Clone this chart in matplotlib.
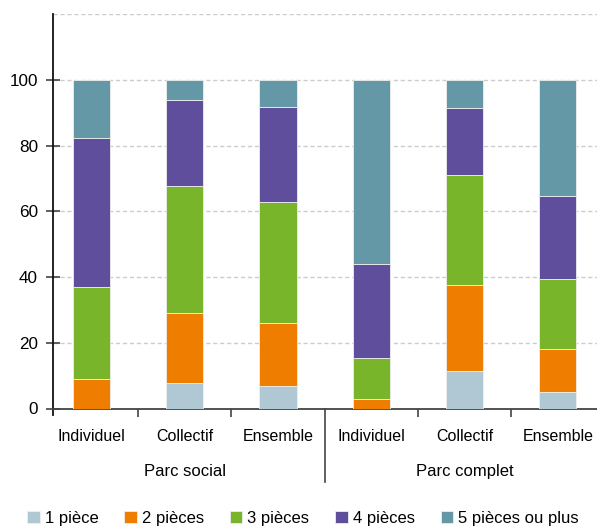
import matplotlib.pyplot as plt
import numpy as np

plt.rcParams['font.family'] = ['Liberation Sans', 'DejaVu Sans']

# Répartition des logements selon le nombre de pièces (%)
categories = ['Individuel', 'Collectif', 'Ensemble', 'Individuel', 'Collectif', 'Ensemble']
groupes = ['Parc social', 'Parc complet']
series = ['1 pièce', '2 pièces', '3 pièces', '4 pièces', '5 pièces ou plus']
une_piece = [0.0, 7.8, 6.8, 0.0, 11.4, 4.9]
deux_pieces = [8.9, 21.4, 19.1, 2.9, 26.1, 13.1]
trois_pieces = [28.0, 38.6, 37.0, 12.6, 33.6, 21.3]
quatre_pieces = [45.5, 25.9, 28.7, 28.6, 20.2, 25.2]
cinq_pieces = [17.6, 6.3, 8.2, 55.7, 8.5, 35.5]
couleurs = ['#afc8d3', '#ef7d00', '#78b52a', '#5e4e9c', '#6498a7']

fig = plt.figure(figsize=(5.97, 5.27), dpi=100)
ax = fig.add_axes([53 / 597, (527 - 408.5) / 527, 1 - 53 / 597, 394.5 / 527])

x = np.arange(len(categories))
bas = np.zeros(len(categories))
for nom, vals, c in zip(series, [une_piece, deux_pieces, trois_pieces, quatre_pieces, cinq_pieces], couleurs):
    ax.bar(x, vals, width=0.4, bottom=bas, color=c, edgecolor='#eeeeee', linewidth=0.6, label=nom, zorder=3)
    bas += np.array(vals)

ax.set_xlim(-0.41, 5.42)
ax.set_ylim(0, 120)
ax.set_yticks([0, 20, 40, 60, 80, 100])
ax.set_yticks([120], minor=True)
ax.yaxis.grid(True, which='both', linestyle=(0, (3, 2)), color='#cccccc', linewidth=1, zorder=0)
ax.tick_params(axis='y', which='major', labelsize=12.3, direction='inout', length=10.5,
               width=1.2, color='#444444', pad=5.5)
ax.tick_params(axis='y', which='minor', length=0)

ax.set_xticks(x)
ax.set_xticklabels(categories)
ax.tick_params(axis='x', which='major', length=0, labelsize=11.5, pad=15)
ax.set_xticks([0.5, 1.5, 3.5, 4.5], minor=True)
ax.tick_params(axis='x', which='minor', length=6, width=1.2, color='#444444')

for s in ['top', 'right']:
    ax.spines[s].set_visible(False)
ax.spines['left'].set_linewidth(1.3)
ax.spines['left'].set_color('#111111')
ax.spines['bottom'].set_linewidth(1.3)
ax.spines['bottom'].set_color('#444444')

# petit trait sous l'axe à gauche et séparateur entre les deux parcs
ax.plot([-0.41, -0.41], [0, -2], color='#111111', lw=1.3, clip_on=False)
ax.plot([2.5, 2.5], [0, -22.5], color='#444444', lw=1.2, clip_on=False)

ax.text(1, -19.3, groupes[0], ha='center', va='center', fontsize=12)
ax.text(4, -19.3, groupes[1], ha='center', va='center', fontsize=12)

fig.legend(loc='center', bbox_to_anchor=(303 / 597, 9 / 527), ncol=5, frameon=False,
           fontsize=12, handlelength=0.75, handleheight=0.75, handletextpad=0.3,
           columnspacing=1.55, borderaxespad=0)

fig.savefig('out.png', dpi=100)
